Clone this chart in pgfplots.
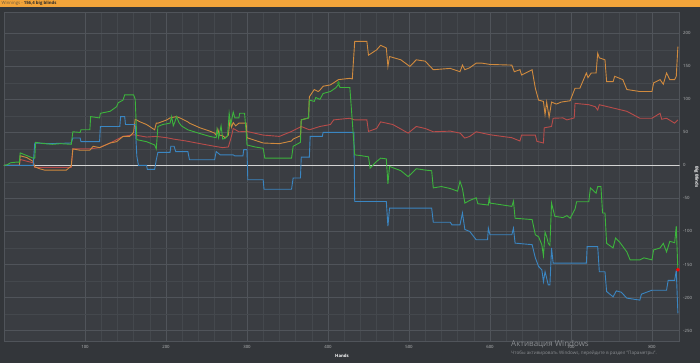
\documentclass[border=0pt]{standalone}
\usepackage{pgfplots}
\pgfplotsset{compat=1.18}
\usepackage{fontspec}
\setmainfont{Open Sans}
\definecolor{outerbg}{HTML}{33363A}
\definecolor{plotbg}{HTML}{3A3D42}
\definecolor{gridmaj}{HTML}{50545A}
\definecolor{gridmin}{HTML}{44484D}
\definecolor{ticktext}{HTML}{B4B6B8}
\definecolor{titlebar}{HTML}{F2A43A}
\definecolor{corange}{HTML}{D08A3E}
\definecolor{cred}{HTML}{B84C4A}
\definecolor{cgreen}{HTML}{3CB43C}
\definecolor{cblue}{HTML}{3A86C2}
\definecolor{zeroline}{HTML}{D4D4D4}
\definecolor{wmark}{HTML}{8A8D91}
\begin{document}
\begin{tikzpicture}[x=1pt,y=1pt]
\fill[outerbg] (0,0) rectangle (700,363);
\fill[titlebar] (0,356.3) rectangle (700,363);
\node[anchor=west, inner sep=0pt, font=\fontsize{4.3}{5}\selectfont] at (1.5,359.6) {\textcolor[HTML]{6A5A40}{Winnings -} \textbf{\textcolor[HTML]{2A2A2A}{156,4 big blinds}}};
\begin{axis}[
  name=main,
  at={(4pt,21.3pt)}, anchor=south west,
  scale only axis, width=675.5pt, height=329.4pt,
  xmin=0, xmax=834, ymin=-267, ymax=232,
  axis background/.style={fill=plotbg},
  axis line style={draw=gridmaj, line width=0.5pt},
  grid=both,
  major grid style={draw=gridmaj, line width=0.5pt},
  minor grid style={draw=gridmin, line width=0.4pt},
  xtick={100,200,...,800}, minor x tick num=4,
  ytick={-250,-200,...,200}, minor y tick num=1,
  major tick length=0pt, minor tick length=0pt,
  yticklabel pos=right,
  /pgf/number format/assume math mode=true,
  /pgf/number format/1000 sep={},
  ticklabel style={font=\fontsize{4.3}{5}\selectfont, text=ticktext, inner sep=0pt},
  x tick label style={anchor=center, yshift=-5.3pt},
  y tick label style={anchor=west, xshift=3.5pt},
  every axis plot/.append style={line width=0.9pt, sharp plot, mark=none},
  clip=true,
]
\addplot[zeroline, line width=1.6pt] coordinates {(1,0) (834,0)};
% red
\addplot[cred] coordinates {
(0,0) (19,0) (20,9) (36,4) (38,-3) (50,-3) (83,-3) (85,25) (106,25) (118,27) (131,34) (139,39) (147,44) (160,46.5) (176,43) (188,44) (201,42) (209,40) (225,37) (242,33) (260,29) (270,27) (277,28) (281,45) (283,56) (290,51) (300,51.5) (320,46) (340,44) (355,51.5) (367,59) (377,54) (390,59) (403,62) (407,69) (427,71.5) (433,69) (448,69) (450,51.5) (460,56) (465,66) (480,62) (499,49) (509,59) (520,56) (530,51) (551,52) (563,49) (569,41.5) (575,44) (583,51) (600,46.5) (627,42) (637,37) (639,46) (656,46) (658,36.5) (666,34) (667,57) (676,59) (678,71.5) (690,72) (695,69) (704,72) (705,94) (722,92) (730,89) (733,84) (735,92) (752,87) (769,82) (785,71.5) (800,71.5) (810,79) (812,70) (818,71.5) (828,64) (832,69)
};
% orange
\addplot[corange] coordinates {
(0,0) (19,0) (20,14.6) (28,12) (36,6) (38,-2) (44,-5) (50,-7) (77,-7) (83,-1) (85,25) (94,23) (106,23) (110,29) (118,27) (131,34) (139,36) (147,44) (155,44) (160,50) (162,70) (168,66) (176,62) (186,54) (188,64) (190,64) (201,69) (205,72) (213,74) (219,71) (227,66) (229,64) (242,57) (254,52) (260,49) (262,46) (264,55) (266,46) (270,45) (273,42) (277,46) (279,69) (281,58) (283,65) (286,60) (290,64) (295,64) (299,64) (300,42) (320,34) (340,33) (355,37) (357,40) (366,45) (367,69) (376,72) (377,104) (383,115) (388,112) (390,114) (394,120) (403,122) (413,130) (427,132) (430,131) (433,188) (448,188) (450,167) (460,175) (465,182) (472,178) (474,150) (476,165) (490,160) (501,150) (509,160) (520,158) (530,145) (551,147) (563,142) (566,152) (569,145) (575,148) (583,155) (590,155) (600,153) (627,152) (630,142) (637,145) (639,137) (652,145) (656,117) (660,99) (666,97) (668,77) (670,96) (673,73) (676,96) (682,93) (688,96) (699,98) (705,117) (711,117) (719,140) (721,133) (725,140) (731,140) (733,170) (735,163) (742,160) (744,127) (752,127) (754,135) (764,130) (769,115) (785,112) (800,112) (802,125) (810,130) (814,123) (818,140) (822,130) (828,130) (830,135) (832,180)
};
% blue
\addplot[cblue] coordinates {
(0,0) (36,0) (38,34) (56,33) (83,34) (85,41.5) (94,41.5) (95,36) (118,36) (119,59) (143,59) (144,74) (149,74) (150,62) (162,62) (164,14) (166,0) (176,0) (177,-6) (186,-6) (188,8.6) (190,19.7) (205,19.7) (206,29) (210,29) (212,21) (227,21) (229,8.6) (260,8.6) (262,21) (267,16) (283,16) (285,14.5) (295,14.5) (296,24) (300,24) (301,-21.7) (320,-21.7) (321,-36) (355,-36) (357,-19) (366,-19) (367,12.6) (377,12.6) (378,44) (393,44) (394,50) (432,50) (433,-54.6) (472,-54.6) (474,-92) (476,-64.6) (528,-64.6) (530,-86) (551,-86) (553,-90) (563,-90) (566,-72) (569,-97) (575,-100) (583,-112.6) (597,-112.6) (598,-95) (600,-105) (627,-105) (629,-95) (631,-117.7) (652,-120) (656,-140) (660,-153) (664,-158) (666,-176) (668,-161) (672,-181) (674,-181) (676,-125) (678,-148) (719,-148) (720,-123) (733,-123) (735,-161) (742,-161) (744,-191) (752,-199) (756,-190) (762,-192) (769,-201) (785,-204) (787,-195) (800,-189) (818,-189) (820,-174) (828,-174) (830,-159) (832,-224)
};
% green
\addplot[cgreen] coordinates {
(0,0) (4,1) (8,4) (15,5) (19,5) (20,19) (28,15) (36,11) (38,11) (39,35) (50,33) (60,32) (70,33) (83,32) (85,51) (94,50) (95,54) (106,54) (107,74) (118,72) (119,79) (131,82) (139,89) (141,95) (147,99) (149,107) (160,107) (162,100) (164,39) (168,38) (176,36) (186,31) (188,25) (190,59) (196,62) (205,64) (207,74) (209,60) (211,66) (213,74) (216,65) (219,60) (227,54) (240,49) (254,44) (262,42) (263,55) (265,42) (268,60) (270,40) (273,41) (276,45) (278,79) (280,62) (283,81) (285,72) (290,72) (291,79) (297,79) (299,50) (300,31) (310,28) (320,26) (322,11) (355,11) (357,29) (366,35) (367,69) (376,72) (377,99) (383,97) (385,103) (390,100) (394,109) (403,112) (410,118) (413,123) (415,118) (427,118) (433,16) (440,15) (450,13) (452,-4) (460,6) (465,11) (472,10) (474,-28) (476,-1.5) (490,-8) (499,-17) (509,-5) (520,-7) (528,-8) (530,-34) (540,-32) (551,-35) (560,-39) (563,-24) (566,-35) (569,-57) (575,-53) (583,-49) (585,-58) (598,-60) (599,-49) (600,-57) (627,-62) (629,-54) (631,-80) (652,-82) (656,-105) (660,-108) (664,-120) (666,-137) (668,-101) (670,-108) (672,-118) (674,-121) (676,-57) (680,-77) (690,-79) (695,-76) (699,-80) (705,-66) (707,-55) (722,-55) (724,-34) (731,-42) (733,-32) (737,-32) (739,-72) (742,-72) (744,-118) (752,-125) (755,-110) (760,-116) (769,-131) (773,-143) (785,-143) (790,-140) (800,-143) (802,-128) (810,-125) (814,-118) (818,-131) (822,-115) (828,-117) (830,-92) (832,-159)
};
\addplot[only marks, mark=triangle*, mark size=1.4pt, color=cgreen!80!black] coordinates {(413,125)};
\addplot[only marks, mark=*, mark size=1.3pt, color=red] coordinates {(832,-158)};
\end{axis}
\node[inner sep=0pt, text=white, font=\bfseries\fontsize{4.3}{5}\selectfont] at (342,7) {Hands};
\node[inner sep=0pt, text=white, rotate=-90, font=\bfseries\fontsize{4.3}{5}\selectfont] at (696.5,186) {Big Blinds};
\node[anchor=west, inner sep=0pt, text=wmark, font=\fontsize{8}{9}\selectfont] at (511,18.5) {Активация Windows};
\node[anchor=west, inner sep=0pt, text=wmark, font=\fontsize{4.6}{5}\selectfont] at (511,9.3) {Чтобы активировать Windows, перейдите в раздел "Параметры".};
\pgfresetboundingbox
\useasboundingbox (0,0) rectangle (700,363);
\end{tikzpicture}
\end{document}
